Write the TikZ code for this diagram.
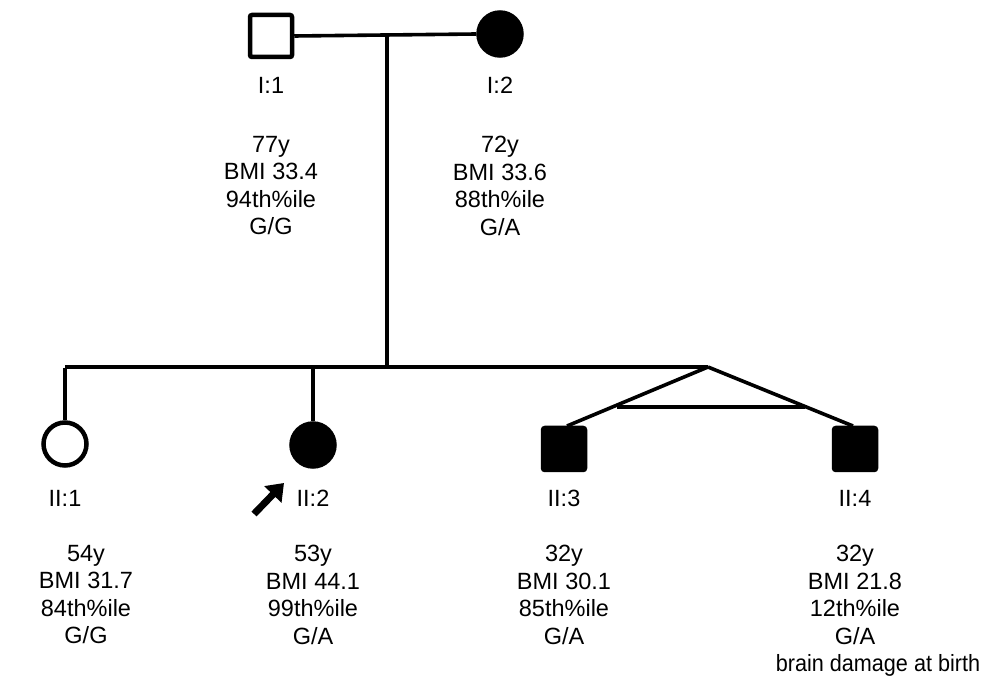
\documentclass[tikz,border=0pt]{standalone}
\usepackage{fontspec}
\setmainfont{Liberation Sans}
\usetikzlibrary{arrows.meta}
\begin{document}
\begin{tikzpicture}[x=1pt,y=-1pt,
  line/.style={line width=3.6pt},
  male/.style={draw,line width=4.5pt,minimum size=42pt,inner sep=0pt,rounded corners=2pt},
  female/.style={draw,circle,line width=4.5pt,minimum size=43pt,inner sep=0pt},
  affected/.style={fill=black},
  lbl/.style={font=\fontsize{23.5}{27.5}\selectfont,inner sep=0pt},
  info/.style={font=\fontsize{23.5}{27.5}\selectfont,align=center,inner sep=0pt,anchor=north}]
\useasboundingbox (0,0) rectangle (989,692);
% generation I
\node[male] (i1) at (271,36) {};
\node[female,affected] (i2) at (500,34) {};
\coordinate (mid) at (387,34);
\draw[line] (i1.east) -- (i2.west);
\node[lbl] (li1) at (271,85) {I:1};
\node[lbl] (li2) at (500,85) {I:2};
\node[info] (ti1) at (271,136) {77y\\BMI 33.4\\94th\%ile\\G/G};
\node[info] (ti2) at (500,136) {72y\\BMI 33.6\\88th\%ile\\G/A};
% sibship
\coordinate (sib) at (387,367);
\coordinate (sl) at (65,367);
\coordinate (s2) at (313,367);
\coordinate (apex) at (708,367);
\draw[line] (mid) -- (sib);
\draw[line,line join=round] (sl) -- (apex);
% generation II
\node[female] (ii1) at (65,444) {};
\node[female,affected] (ii2) at (313,445) {};
\node[male,affected] (ii3) at (564,449) {};
\node[male,affected] (ii4) at (855,449) {};
\draw[line] ([yshift=-1.5pt]sl) -- (ii1.north);
\draw[line] (s2) -- (ii2.north);
\coordinate (t3) at (567,426);
\coordinate (t4) at (853,426);
\draw[line] (apex) -- (t3);
\draw[line] (apex) -- (t4);
\coordinate (b3) at (617,407);
\coordinate (b4) at (805,407);
\draw[line] (b3) -- (b4);
\node[lbl] (lii1) at (65,498) {II:1};
\node[lbl] (lii2) at (313,498) {II:2};
\node[lbl] (lii3) at (564,498) {II:3};
\node[lbl] (lii4) at (855,498) {II:4};
\coordinate (at) at (254,514);
\coordinate (ah) at (284,483);
\draw[line width=7pt,-{Triangle[length=16pt,width=23pt]}] (at) -- (ah);
\node[info] (tii1) at (86,545) {54y\\BMI 31.7\\84th\%ile\\G/G};
\node[info] (tii2) at (313,545) {53y\\BMI 44.1\\99th\%ile\\G/A};
\node[info] (tii3) at (564,545) {32y\\BMI 30.1\\85th\%ile\\G/A};
\node[info] (tii4) at (855,545) {32y\\BMI 21.8\\12th\%ile\\G/A};
\node[info] (bd) at (878,654) {\scalebox{0.92}[1]{brain damage at birth}};
\end{tikzpicture}
\end{document}
